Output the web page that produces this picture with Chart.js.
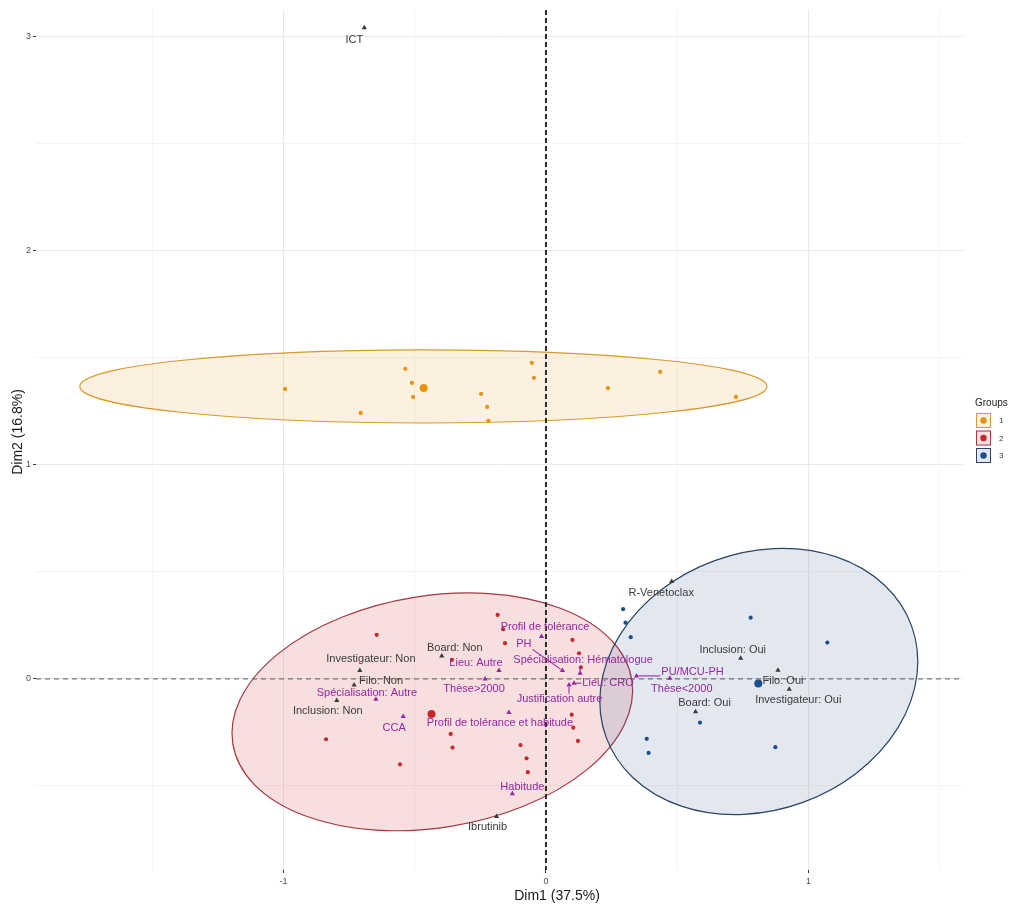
<!DOCTYPE html>
<html>
<head>
<meta charset="utf-8">
<script src="https://cdn.jsdelivr.net/npm/chart.js@4"></script>
<style>
  html, body { margin: 0; padding: 0; background: #ffffff; }
  canvas { display: block; }
</style>
</head>
<body>
<canvas id="chart" width="1014" height="905"></canvas>
<script>
// ---- Individuals, by cluster (Dim1, Dim2) ----
const group1X = [-0.994, -0.536, -0.511, -0.506, -0.247, -0.224, -0.219, -0.706, -0.054, -0.046, 0.236, 0.435, 0.724];
const group1Y = [1.355, 1.449, 1.383, 1.318, 1.332, 1.271, 1.206, 1.243, 1.477, 1.407, 1.360, 1.435, 1.318];

const group2X = [-0.645, -0.184, -0.163, -0.156, -0.358, -0.838, -0.363, -0.356, -0.556, -0.097, -0.074, -0.069, 0.101, 0.126, 0.133, 0.098, 0.104, 0.122];
const group2Y = [0.206, 0.299, 0.232, 0.167, 0.089, -0.282, -0.257, -0.321, -0.399, -0.309, -0.371, -0.436, 0.182, 0.120, 0.054, -0.167, -0.228, -0.290];

const group3X = [0.294, 0.303, 0.323, 0.780, 1.072, 0.587, 0.384, 0.391, 0.874];
const group3Y = [0.326, 0.263, 0.195, 0.286, 0.170, -0.204, -0.280, -0.346, -0.319];

// Cluster centres
const groupNames = ["1", "2", "3"];
const centreX = [-0.466, -0.436, 0.809];
const centreY = [1.360, -0.164, -0.022];

// Concentration ellipses: centre and two conjugate semi-axes (Dim1, Dim2 units)
const ellipseCx = [-0.467, -0.433, 0.811];
const ellipseCy = [1.367, -0.154, -0.012];
const ellipseUx = [1.309, 0.760, 0.582];
const ellipseUy = [0.000, 0.150, 0.260];
const ellipseVx = [0.000, 0.070, 0.168];
const ellipseVy = [0.171, -0.535, -0.565];

// Active variable categories
const activeNames = ["ICT", "R-Venetoclax", "Inclusion: Oui", "Filo: Oui", "Investigateur: Oui", "Board: Oui",
                     "Board: Non", "Investigateur: Non", "Filo: Non", "Inclusion: Non", "Ibrutinib"];
const activeX = [-0.692, 0.479, 0.742, 0.884, 0.927, 0.570, -0.397, -0.709, -0.731, -0.797, -0.188];
const activeY = [3.043, 0.455, 0.097, 0.040, -0.048, -0.153, 0.107, 0.039, -0.028, -0.101, -0.643];

// Supplementary variable categories
const supNames = ["Spécialisation: Autre", "CCA", "Lieu: Autre", "Thèse>2000", "Profil de tolérance et habitude",
                  "Habitude", "Profil de tolérance", "PH", "Spécialisation: Hématologue", "Justification autre",
                  "Lieu: CRO", "PU/MCU-PH", "Thèse<2000"];
const supX = [-0.648, -0.544, -0.179, -0.232, -0.141, -0.128, -0.017, 0.063, 0.130, 0.088, 0.107, 0.345, 0.472];
const supY = [-0.095, -0.176, 0.039, 0.000, -0.157, -0.537, 0.198, 0.039, 0.027, -0.028, -0.020, 0.014, 0.003];

// Axis ticks
const xTicks = [-1.5, -1, -0.5, 0, 0.5, 1, 1.5];
const yTicks = [-0.5, 0, 0.5, 1, 1.5, 2, 2.5, 3];
const xTitle = "Dim1 (37.5%)";
const yTitle = "Dim2 (16.8%)";
const legendTitle = "Groups";

// ---- Styling / layout ----
const pointColors   = ["#E8920C", "#C8282C", "#1C4F8C"];
const ellipseFill   = ["rgba(232,150,20,0.13)", "rgba(200,40,50,0.15)", "rgba(40,80,140,0.13)"];
const ellipseStroke = ["#D79B2A", "#A3383E", "#2B4462"];
const activeColor = "#3A3A3A";
const supColor = "#9428A0";
const FONT = '"Liberation Sans", Arial, Helvetica, sans-serif';

// label placement relative to the marker (pixels), and whether a leader segment is drawn
const activeLabelOffset = [[-10, 12], [-10.5, 11], [-8, -8], [5, 11], [9, 11], [9, -9],
                           [13, -8], [11, -12], [27, -4], [-9, 10], [-9, 10]];
const supLabelOffset = [[-9, -6], [-9, 11], [-23, -8], [-11, 10], [-9, 10.5], [10, -7], [3.5, -10],
                        [-38.7, -26.7], [3, -13], [-9.6, 14.3], [34, 0], [56, -4.3], [12, 11]];
const supLeader = [false, false, false, false, false, false, false, true, true, true, true, true, false];

const toPts = (xs, ys) => xs.map((x, i) => ({ x: x, y: ys[i] }));

const ellipsePlugin = {
  id: 'ellipses',
  beforeDatasetsDraw(chart) {
    const { ctx, scales: { x: xs, y: ys }, chartArea: a } = chart;
    ctx.save();
    ctx.beginPath();
    ctx.rect(a.left, a.top, a.right - a.left, a.bottom - a.top);
    ctx.clip();
    for (let i = 0; i < ellipseCx.length; i++) {
      const cx = xs.getPixelForValue(ellipseCx[i]);
      const cy = ys.getPixelForValue(ellipseCy[i]);
      const ux = xs.getPixelForValue(ellipseCx[i] + ellipseUx[i]) - cx;
      const uy = ys.getPixelForValue(ellipseCy[i] + ellipseUy[i]) - cy;
      const vx = xs.getPixelForValue(ellipseCx[i] + ellipseVx[i]) - cx;
      const vy = ys.getPixelForValue(ellipseCy[i] + ellipseVy[i]) - cy;
      ctx.save();
      ctx.beginPath();
      ctx.transform(ux, uy, vx, vy, cx, cy);
      ctx.arc(0, 0, 1, 0, Math.PI * 2);
      ctx.restore();
      ctx.fillStyle = ellipseFill[i];
      ctx.fill();
      ctx.lineWidth = 1.2;
      ctx.strokeStyle = ellipseStroke[i];
      ctx.stroke();
    }
    // reference lines through the origin
    const x0 = xs.getPixelForValue(0), y0 = ys.getPixelForValue(0);
    ctx.setLineDash([5, 4]);
    ctx.lineWidth = 1;
    ctx.strokeStyle = "#5a5a5a";
    ctx.beginPath();
    ctx.moveTo(a.left, y0); ctx.lineTo(a.right, y0);
    ctx.stroke();
    ctx.setLineDash([5, 3]);
    ctx.lineWidth = 2;
    ctx.strokeStyle = "#2a2a2a";
    ctx.beginPath();
    ctx.moveTo(x0, a.top); ctx.lineTo(x0, a.bottom);
    ctx.stroke();
    ctx.restore();
  }
};

function drawLabels(ctx, meta, names, offsets, color, leaders) {
  ctx.fillStyle = color;
  ctx.strokeStyle = color;
  meta.data.forEach((el, i) => {
    const px = el.x, py = el.y;
    const lx = px + offsets[i][0], ly = py + offsets[i][1];
    if (leaders && leaders[i]) {
      const w = ctx.measureText(names[i]).width;
      const hx = w / 2 + 1, hy = 5.5;
      const bx = Math.min(Math.max(px, lx - hx), lx + hx);
      const by = Math.min(Math.max(py, ly - hy), ly + hy);
      const dx = px - bx, dy = py - by, d = Math.hypot(dx, dy);
      if (d > 3) {
        ctx.lineWidth = 1.1;
        ctx.beginPath();
        ctx.moveTo(bx, by);
        ctx.lineTo(px - dx / d * 2, py - dy / d * 2);
        ctx.stroke();
      }
    }
    ctx.fillText(names[i], lx, ly);
  });
}

const labelPlugin = {
  id: 'labels',
  afterDatasetsDraw(chart) {
    const ctx = chart.ctx;
    ctx.save();
    ctx.font = '11px ' + FONT;
    ctx.textAlign = 'center';
    ctx.textBaseline = 'middle';
    drawLabels(ctx, chart.getDatasetMeta(6), activeNames, activeLabelOffset, activeColor, null);
    drawLabels(ctx, chart.getDatasetMeta(7), supNames, supLabelOffset, supColor, supLeader);
    ctx.restore();
  },
  afterDraw(chart) {
    const ctx = chart.ctx;
    const a = chart.chartArea;
    ctx.save();
    // axis titles
    ctx.fillStyle = "#1a1a1a";
    ctx.font = '14px ' + FONT;
    ctx.textAlign = 'center';
    ctx.textBaseline = 'middle';
    ctx.fillText(xTitle, 557, 896);
    ctx.save();
    ctx.translate(18, 432);
    ctx.rotate(-Math.PI / 2);
    ctx.fillText(yTitle, 0, 0);
    ctx.restore();
    // legend
    const lx = a.right + 13;
    ctx.textAlign = 'left';
    ctx.font = '10px ' + FONT;
    ctx.fillStyle = "#1a1a1a";
    ctx.fillText(legendTitle, lx - 1, 403);
    groupNames.forEach((g, i) => {
      const top = 413 + i * 17.5;
      ctx.fillStyle = "#ffffff";
      ctx.fillRect(lx, top, 15, 15);
      ctx.fillStyle = ellipseFill[i];
      ctx.fillRect(lx, top, 15, 15);
      ctx.lineWidth = 1;
      ctx.strokeStyle = ellipseStroke[i];
      ctx.strokeRect(lx + 0.5, top + 0.5, 14, 14);
      ctx.fillStyle = pointColors[i];
      ctx.beginPath();
      ctx.arc(lx + 7.5, top + 7.5, 3.2, 0, Math.PI * 2);
      ctx.fill();
      ctx.fillStyle = "#333333";
      ctx.font = '8px ' + FONT;
      ctx.fillText(g, lx + 23, top + 8);
    });
    ctx.restore();
  }
};

const isInt = v => Math.abs(v - Math.round(v)) < 1e-9;
const gridColor = c => (c.tick && isInt(c.tick.value)) ? "#E9E9E9" : "#F4F4F4";
const tickMarkColor = c => (c.tick && isInt(c.tick.value)) ? "#333333" : "rgba(0,0,0,0)";

new Chart(document.getElementById('chart'), {
  type: 'scatter',
  data: {
    datasets: [
      { data: toPts(group1X, group1Y), backgroundColor: pointColors[0], pointRadius: 2.1, borderWidth: 0 },
      { data: toPts(group2X, group2Y), backgroundColor: pointColors[1], pointRadius: 2.1, borderWidth: 0 },
      { data: toPts(group3X, group3Y), backgroundColor: pointColors[2], pointRadius: 2.1, borderWidth: 0 },
      { data: [{ x: centreX[0], y: centreY[0] }], backgroundColor: pointColors[0], pointRadius: 4, borderWidth: 0 },
      { data: [{ x: centreX[1], y: centreY[1] }], backgroundColor: pointColors[1], pointRadius: 4, borderWidth: 0 },
      { data: [{ x: centreX[2], y: centreY[2] }], backgroundColor: pointColors[2], pointRadius: 4, borderWidth: 0 },
      { data: toPts(activeX, activeY), pointStyle: 'triangle', backgroundColor: activeColor, borderColor: activeColor, borderWidth: 0, pointRadius: 3 },
      { data: toPts(supX, supY), pointStyle: 'triangle', backgroundColor: supColor, borderColor: supColor, borderWidth: 0, pointRadius: 3 }
    ]
  },
  options: {
    responsive: false,
    animation: false,
    devicePixelRatio: 1,
    layout: { padding: { left: 0, top: 10, right: 51, bottom: 0 } },
    plugins: { legend: { display: false }, tooltip: { enabled: false } },
    scales: {
      x: {
        type: 'linear',
        min: -1.943, max: 1.589,
        afterBuildTicks: s => { s.ticks = xTicks.map(v => ({ value: v })); },
        afterFit: s => { s.height = 35; },
        border: { display: false },
        grid: { color: gridColor, lineWidth: 1, drawTicks: true, tickLength: 3, tickColor: tickMarkColor },
        ticks: {
          autoSkip: false, maxRotation: 0, padding: 3, color: "#4D4D4D",
          font: { family: FONT, size: 9 },
          callback: v => isInt(v) ? String(Math.round(v)) : ''
        }
      },
      y: {
        type: 'linear',
        min: -0.893, max: 3.126,
        afterBuildTicks: s => { s.ticks = yTicks.map(v => ({ value: v })); },
        afterFit: s => { s.width = 36; },
        border: { display: false },
        grid: { color: gridColor, lineWidth: 1, drawTicks: true, tickLength: 3, tickColor: tickMarkColor },
        ticks: {
          autoSkip: false, padding: 2, color: "#4D4D4D",
          font: { family: FONT, size: 9 },
          callback: v => isInt(v) ? String(Math.round(v)) : ''
        }
      }
    }
  },
  plugins: [ellipsePlugin, labelPlugin]
});
</script>
</body>
</html>
